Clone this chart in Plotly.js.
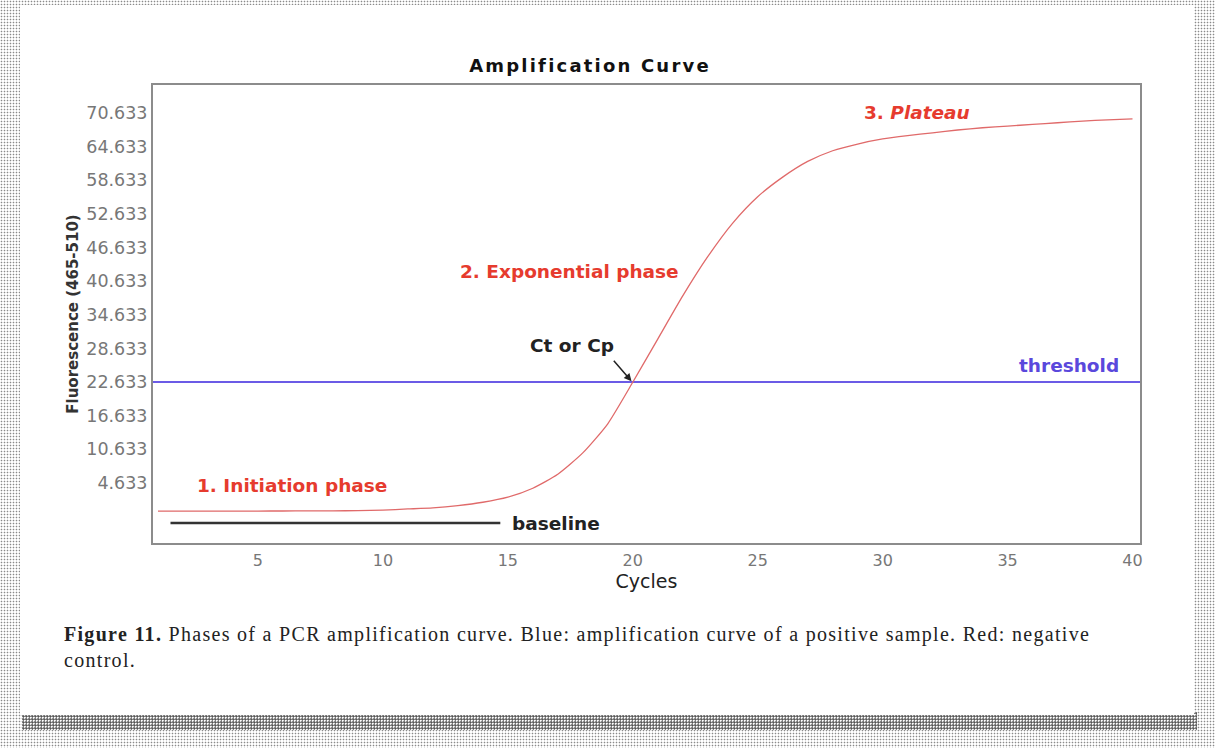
<!DOCTYPE html>
<html>
<head>
<meta charset="utf-8">
<script src="https://cdn.plot.ly/plotly-3.0.1.min.js"></script>
<style>
  body { margin: 0; width: 1215px; height: 748px; overflow: hidden;
         background-color: #fff;
         background-image: radial-gradient(circle, #8a8a8a 0.7px, transparent 1.1px);
         background-size: 3px 3px; }
  #shadow { position: absolute; left: 22px; top: 712px; width: 1175px; height: 18px;
            background-image: radial-gradient(circle, #555 0.9px, transparent 1.3px);
            background-size: 3px 3px; }
  #card { position: absolute; left: 20px; top: 5px; width: 1174px; height: 710px; background: #fff; }
  #graph { position: absolute; left: 0; top: 0; width: 1215px; height: 748px; }
  /* the scanned figure has stretched lettering */
  .gtitle { letter-spacing: 2.2px; }
  g.annotation[data-index="7"] text { letter-spacing: 1.3px; }
</style>
</head>
<body>
<div id="shadow"></div>
<div id="card"></div>
<div id="graph"></div>
<script>
// PCR amplification curve
const cycles = [1, 2, 3, 4, 5, 6, 7, 8, 9, 10, 11, 12, 13, 14, 15, 16, 17, 18, 19, 20,
  21, 22, 23, 24, 25, 26, 27, 28, 29, 30, 31, 32, 33, 34, 35, 36, 37, 38, 39, 40];
const fluorescence = [-0.37, -0.37, -0.37, -0.37, -0.37, -0.36, -0.35, -0.33, -0.3, -0.2,
  0.0, 0.2, 0.6, 1.2, 2.1, 3.7, 6.2, 10.0, 15.2, 22.6,
  30.3, 38.0, 45.0, 51.0, 55.7, 59.2, 62.0, 63.9, 65.1, 66.0,
  66.6, 67.1, 67.6, 68.0, 68.3, 68.6, 68.9, 69.2, 69.4, 69.6];

// threshold level and the baseline segment
const threshold = 22.633;
const thresholdX = [0.8, 40.3];
const baselineX = [1.5, 14.7];
const baselineY = [-2.5, -2.5];

// tick labels
const yTicks = [4.633, 10.633, 16.633, 22.633, 28.633, 34.633, 40.633, 46.633, 52.633, 58.633, 64.633, 70.633];
const xTicks = [5, 10, 15, 20, 25, 30, 35, 40];

const red = '#e63b2e';
const labelFont = { family: 'DejaVu Sans', size: 18.5, color: red, weight: 'bold' };

const data = [
  {
    x: thresholdX,
    y: [threshold, threshold],
    mode: 'lines',
    line: { color: '#6b5be6', width: 2 },
    hoverinfo: 'skip'
  },
  {
    x: baselineX,
    y: baselineY,
    mode: 'lines',
    line: { color: '#333', width: 2.5 },
    hoverinfo: 'skip'
  },
  {
    x: cycles,
    y: fluorescence,
    mode: 'lines',
    line: { color: '#e06a6a', width: 1.3, shape: 'spline', smoothing: 0.6 },
    name: 'Amplification'
  }
];

const layout = {
  width: 1215,
  height: 748,
  margin: { l: 153, r: 75, t: 85, b: 205 },
  paper_bgcolor: 'rgba(0,0,0,0)',
  plot_bgcolor: '#fff',
  showlegend: false,
  title: {
    text: 'Amplification Curve',
    font: { family: 'DejaVu Sans', size: 18, color: '#111', weight: 'bold' },
    x: 0.4856, xanchor: 'center',
    y: 0.912, yanchor: 'middle'
  },
  xaxis: {
    range: [0.8, 40.3],
    tickvals: xTicks,
    ticks: 'outside', ticklen: 2, tickcolor: 'rgba(0,0,0,0)',
    showgrid: false, zeroline: false,
    showline: true, mirror: true, linecolor: '#8c8c8c', linewidth: 2,
    tickfont: { family: 'DejaVu Sans', size: 16, color: '#777' },
    title: { text: 'Cycles', standoff: 4, font: { family: 'DejaVu Sans', size: 19, color: '#222' } }
  },
  yaxis: {
    range: [-6.07, 75.63],
    tickvals: yTicks,
    ticktext: yTicks.map(v => v.toFixed(3)),
    ticks: '',
    showgrid: false, zeroline: false,
    showline: true, mirror: true, linecolor: '#8c8c8c', linewidth: 2,
    tickfont: { family: 'DejaVu Sans', size: 17.5, color: '#777' },
    title: { text: 'Fluorescence (465-510)', standoff: 4, font: { family: 'DejaVu Sans', size: 15, color: '#333', weight: 'bold' } }
  },
  annotations: [
    { x: 6.36, y: 4.1, text: '1. Initiation phase', showarrow: false, font: labelFont },
    { x: 17.48, y: 42.45, text: '2. Exponential phase', showarrow: false, font: labelFont },
    { x: 31.36, y: 70.81, text: '3. <i>Plateau</i>', showarrow: false, font: labelFont },
    { x: 37.44, y: 25.68, text: 'threshold', showarrow: false,
      font: { family: 'DejaVu Sans', size: 18.5, color: '#5a48dc', weight: 'bold' } },
    { x: 17.56, y: 29.25, text: 'Ct or Cp', showarrow: false,
      font: { family: 'DejaVu Sans', size: 18.5, color: '#222', weight: 'bold' } },
    { x: 15.08, y: -2.6, xanchor: 'left', text: 'baseline', showarrow: false,
      font: { family: 'DejaVu Sans', size: 18.5, color: '#222', weight: 'bold' } },
    { x: 19.95, y: 22.8, text: '', showarrow: true, ax: -19, ay: -22,
      arrowhead: 2, arrowsize: 1, arrowwidth: 1.5, arrowcolor: '#222' },
    {
      xref: 'paper', yref: 'paper', x: -0.0922, y: -0.17, xanchor: 'left', yanchor: 'top',
      align: 'left', showarrow: false,
      text: '<b>Figure 11.</b> Phases of a PCR amplification curve. Blue: amplification curve of a positive sample. Red: negative<br>control.',
      font: { family: 'Liberation Serif', size: 20, color: '#222' }
    }
  ]
};

Plotly.newPlot('graph', data, layout, { displayModeBar: false, staticPlot: true });
</script>
</body>
</html>
